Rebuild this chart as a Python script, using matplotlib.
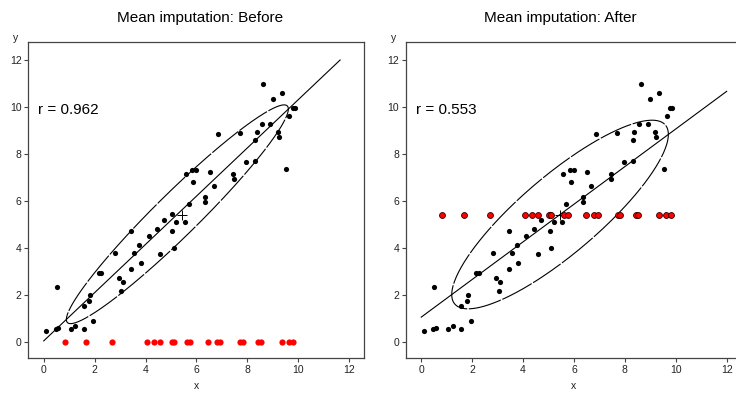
import numpy as np
import matplotlib
matplotlib.use("Agg")
import matplotlib.pyplot as plt

plt.rcParams['font.family'] = ['Liberation Sans', 'DejaVu Sans']

# observed cases (black points)
x_obs = [0.09, 0.47, 0.57, 0.51, 1.07, 1.24, 1.58, 1.95, 1.58, 1.78, 1.83, 2.16, 2.26,
         2.80, 2.94, 3.11, 3.04, 3.44, 3.55, 3.75, 3.44, 3.82, 4.12, 4.43, 4.57, 4.72,
         5.04, 5.04, 5.10, 5.21, 5.54, 5.70, 5.57, 5.84, 6.00, 5.88, 6.34, 6.34, 6.52,
         6.67, 6.85, 7.44, 7.46, 7.70, 7.96, 8.30, 8.30, 8.37, 8.57, 8.63, 8.90, 8.99,
         9.19, 9.24, 9.36, 9.52, 9.65, 9.79, 9.86]
y_obs = [0.47, 0.53, 0.58, 2.35, 0.53, 0.68, 0.53, 0.88, 1.52, 1.73, 1.99, 2.95, 2.94,
         3.77, 2.70, 2.53, 2.17, 4.73, 3.77, 4.11, 3.11, 3.37, 4.50, 4.82, 3.76, 5.21,
         5.43, 4.72, 3.98, 5.09, 5.09, 5.85, 7.13, 7.32, 7.32, 6.79, 6.18, 5.94, 7.22,
         6.62, 8.85, 7.13, 6.92, 8.91, 7.67, 7.70, 8.59, 8.92, 9.28, 11.00, 9.28, 10.33,
         8.95, 8.71, 10.58, 7.36, 9.60, 9.94, 9.96]

# cases with missing y (red points)
x_mis = [0.82, 1.66, 2.69, 4.07, 4.35, 4.57, 5.03, 5.11, 5.62, 5.75, 6.46, 6.79, 6.94,
         7.72, 7.81, 8.42, 8.52, 9.35, 9.63, 9.81]
y_mis_before = 0.0
y_imputed = 5.39

r_labels = ["r = 0.962", "r = 0.553"]
titles = ["Mean imputation: Before", "Mean imputation: After"]
center_marks = [(5.42, 5.40), (5.45, 5.39)]


def ellipse_pts(x, y, level=0.68, n=300):
    x = np.asarray(x); y = np.asarray(y)
    cov = np.cov(x, y)
    vals, vecs = np.linalg.eigh(cov)
    k = np.sqrt(-2 * np.log(1 - level))
    t = np.linspace(0, 2 * np.pi, n)
    circ = np.vstack([np.cos(t), np.sin(t)])
    pts = vecs @ (np.sqrt(vals)[:, None] * circ) * k
    return pts[0] + x.mean(), pts[1] + y.mean()


def reg_line(x, y):
    m, b = np.polyfit(x, y, 1)
    x_end = min(12.0, (12.0 - b) / m)
    xs = np.array([0.0, x_end])
    return xs, m * xs + b


fig = plt.figure(figsize=(7.36, 3.98), dpi=100)
ax1 = fig.add_axes([0.0387, 0.0997, 0.4558, 0.7955])
ax2 = fig.add_axes([0.5516, 0.0997, 0.4558, 0.7955])

x_all = np.array(x_obs + x_mis)
y_all = np.array(y_obs + [y_imputed] * len(x_mis))

datasets = [(np.array(x_obs), np.array(y_obs)), (x_all, y_all)]
mis_y = [y_mis_before, y_imputed]

for i, ax in enumerate([ax1, ax2]):
    xd, yd = datasets[i]
    ex, ey = ellipse_pts(xd, yd)
    ax.plot(ex, ey, color='black', lw=0.8, ls=(0, (30, 1.5)))
    lx, ly = reg_line(xd, yd)
    ax.plot(lx, ly, color='black', lw=0.8)
    ax.scatter(x_obs, y_obs, s=14, color='black', lw=0, zorder=3)
    if i == 0:
        ax.scatter(x_mis, [mis_y[i]] * len(x_mis), s=20, color='red', lw=0, zorder=3)
    else:
        ax.scatter(x_mis, [mis_y[i]] * len(x_mis), s=18, facecolor='red',
                   edgecolor='#300000', lw=0.6, zorder=4)
    ax.plot(*center_marks[i], marker='+', ms=7, mew=0.7, color='black', zorder=2)
    ax.text(-0.22, 9.87, r_labels[i], fontsize=11, va='center', ha='left')

    ax.set_xlim(-0.6, 12.58)
    ax.set_ylim(-0.7, 12.78)
    ax.set_xticks(range(0, 13, 2))
    ax.set_yticks(range(0, 13, 2))
    ax.tick_params(direction='out', length=3, width=0.8, color='#444',
                   labelcolor='#222', labelsize=7.5, pad=2)
    for sp in ax.spines.values():
        sp.set_color('#444')
        sp.set_linewidth(0.9)
    ax.set_xlabel('x', fontsize=7.5, labelpad=4, color='#222')
    ax.text(-0.037, 1.012, 'y', transform=ax.transAxes, fontsize=7.5,
            ha='center', va='center', color='#222')

fig.text(200 / 736, 0.955, titles[0], fontsize=11, ha='center', va='center')
fig.text(560 / 736, 0.955, titles[1], fontsize=11, ha='center', va='center')

fig.savefig('out.png', dpi=100)
